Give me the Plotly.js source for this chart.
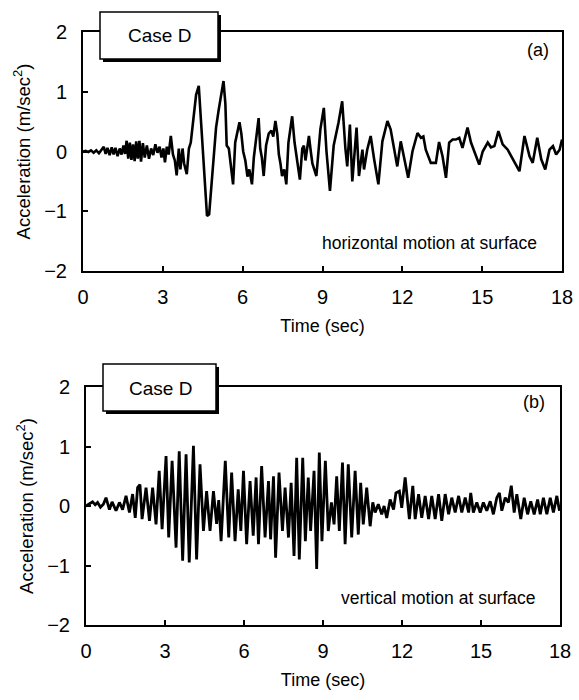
<!DOCTYPE html>
<html>
<head>
<meta charset="utf-8">
<script src="https://cdn.plot.ly/plotly-3.0.1.min.js"></script>
<style>
  html, body { margin: 0; padding: 0; background: #fff; }
  #chart { width: 579px; height: 700px; }
</style>
</head>
<body>
<div id="chart"></div>
<script>
// Case D: surface acceleration records (horizontal and vertical components)

const horizTime = [
  0.00, 0.10, 0.20, 0.30, 0.40, 0.50, 0.60, 0.70, 0.78, 0.85, 0.92, 1.00, 1.08, 1.15, 1.22, 1.30,
  1.38, 1.45, 1.52, 1.58, 1.64, 1.70, 1.76, 1.82, 1.88, 1.94, 2.00, 2.06, 2.12, 2.18, 2.25, 2.32,
  2.40, 2.48, 2.56, 2.64, 2.72, 2.80, 2.88, 2.95, 3.02, 3.08, 3.15, 3.22, 3.30, 3.38, 3.45, 3.52,
  3.60, 3.66, 3.74, 3.80, 3.90, 3.98, 4.05, 4.15, 4.25, 4.35, 4.42, 4.50, 4.60, 4.66, 4.74, 4.82,
  4.92, 5.00, 5.10, 5.20, 5.28, 5.35, 5.40, 5.48, 5.56, 5.64, 5.72, 5.80, 5.88, 5.95, 6.02, 6.10,
  6.18, 6.25, 6.35, 6.42, 6.50, 6.60, 6.66, 6.72, 6.79, 6.88, 6.98, 7.08, 7.15, 7.23, 7.30, 7.36,
  7.42, 7.48, 7.56, 7.64, 7.72, 7.86, 7.95, 8.05, 8.15, 8.24, 8.30, 8.36, 8.49, 8.56, 8.62, 8.77,
  8.92, 9.05, 9.15, 9.28, 9.42, 9.60, 9.74, 9.86, 9.93, 10.03, 10.12, 10.28, 10.37, 10.50, 10.56, 10.68,
  10.81, 10.94, 11.10, 11.25, 11.44, 11.56, 11.69, 11.81, 11.94, 12.07, 12.22, 12.38, 12.57, 12.70, 12.79, 12.88,
  13.07, 13.26, 13.38, 13.51, 13.64, 13.76, 13.89, 14.01, 14.14, 14.26, 14.45, 14.58, 14.70, 14.89, 15.02, 15.21,
  15.33, 15.46, 15.61, 15.77, 15.96, 16.15, 16.40, 16.59, 16.78, 16.90, 17.07, 17.22, 17.37, 17.53, 17.66, 17.78,
  17.91, 18.00
];
const horizAccel = [
  0.00, 0.01, -0.01, 0.02, -0.02, 0.02, -0.03, 0.03, 0.08, -0.04, 0.06, -0.06, 0.07, -0.05, 0.06, -0.08,
  0.05, -0.05, 0.10, -0.04, 0.18, -0.12, 0.15, -0.14, 0.12, -0.16, 0.17, -0.12, 0.18, -0.17, 0.14, -0.10,
  0.10, -0.12, 0.05, -0.06, 0.12, -0.02, 0.08, -0.10, 0.05, -0.18, 0.08, -0.05, 0.26, -0.05, -0.15, -0.40,
  0.05, -0.30, 0.05, -0.20, -0.38, 0.05, 0.15, 0.55, 0.95, 1.10, 0.60, -0.10, -0.80, -1.08, -1.05, -0.60,
  0.10, 0.40, 0.70, 1.00, 1.18, 0.80, 0.10, 0.05, -0.30, -0.55, 0.15, 0.30, 0.49, 0.30, 0.00, -0.15,
  -0.42, -0.30, -0.55, -0.10, 0.20, 0.56, 0.05, -0.10, -0.41, 0.10, 0.30, 0.35, 0.25, 0.51, 0.30, -0.05,
  -0.20, -0.41, -0.30, -0.55, 0.15, 0.59, 0.15, -0.20, -0.47, 0.05, 0.10, -0.15, 0.26, 0.00, -0.20, -0.41,
  0.37, 0.73, 0.00, -0.66, 0.10, 0.48, 0.84, 0.05, -0.25, 0.45, -0.50, 0.40, -0.41, 0.03, -0.30, 0.03,
  0.26, -0.13, -0.55, 0.17, 0.51, 0.37, 0.03, -0.25, 0.17, -0.13, -0.44, 0.00, 0.31, 0.23, 0.25, 0.03,
  -0.19, -0.19, 0.16, -0.08, -0.44, 0.15, 0.20, 0.20, 0.23, 0.06, 0.40, 0.15, 0.00, -0.22, 0.00, 0.15,
  0.07, 0.09, 0.34, 0.12, 0.03, -0.13, -0.33, 0.26, -0.08, -0.19, 0.23, -0.13, -0.30, 0.03, 0.09, -0.05,
  0.03, 0.20
];

const vertTime = [
  0.00, 0.12, 0.25, 0.35, 0.44, 0.55, 0.66, 0.76, 0.89, 0.99, 1.14, 1.27, 1.39, 1.52, 1.65, 1.77,
  1.87, 1.96, 2.05, 2.13, 2.28, 2.41, 2.53, 2.66, 2.78, 2.89, 3.04, 3.14, 3.27, 3.42, 3.54, 3.67,
  3.80, 3.92, 4.08, 4.20, 4.33, 4.46, 4.58, 4.71, 4.84, 4.96, 5.04, 5.13, 5.29, 5.42, 5.53, 5.66,
  5.78, 5.88, 5.98, 6.10, 6.23, 6.35, 6.46, 6.55, 6.67, 6.80, 6.93, 7.01, 7.12, 7.20, 7.33, 7.46,
  7.56, 7.69, 7.79, 7.90, 8.00, 8.10, 8.23, 8.33, 8.44, 8.53, 8.66, 8.76, 8.86, 8.96, 9.09, 9.20,
  9.32, 9.42, 9.52, 9.62, 9.74, 9.84, 9.96, 10.09, 10.22, 10.34, 10.43, 10.53, 10.66, 10.79, 10.89, 10.98,
  11.10, 11.23, 11.32, 11.42, 11.55, 11.68, 11.77, 11.90, 11.99, 12.12, 12.28, 12.41, 12.50, 12.63, 12.75, 12.88,
  13.01, 13.13, 13.26, 13.39, 13.51, 13.64, 13.77, 13.89, 14.02, 14.15, 14.27, 14.40, 14.53, 14.61, 14.71, 14.84,
  14.97, 15.09, 15.22, 15.35, 15.47, 15.60, 15.70, 15.79, 15.92, 16.04, 16.15, 16.26, 16.36, 16.51, 16.64, 16.77,
  16.89, 17.02, 17.15, 17.25, 17.37, 17.50, 17.63, 17.75, 17.88, 17.98
];
const vertAccel = [
  0.00, 0.03, 0.07, 0.02, 0.06, -0.02, 0.03, 0.14, -0.06, 0.07, -0.08, 0.06, -0.06, 0.17, -0.11, 0.20,
  -0.20, 0.31, 0.36, -0.22, 0.31, -0.25, 0.31, -0.31, 0.59, -0.39, 0.84, -0.53, 0.76, -0.70, 0.92, -0.92,
  0.87, -0.95, 1.01, -0.90, 0.70, -0.42, 0.25, -0.42, 0.25, -0.30, 0.10, -0.59, 0.76, -0.53, 0.56, -0.59,
  0.28, -0.42, 0.59, -0.64, 0.42, -0.50, 0.48, -0.64, 0.67, -0.53, 0.42, -0.56, 0.50, -0.87, 0.56, -0.42,
  0.31, -0.53, 0.39, -0.84, 0.81, -0.90, 0.81, -0.59, 0.48, -0.42, 0.59, -1.06, 0.90, -0.59, 0.76, -0.42,
  0.06, -0.31, 0.50, -0.42, 0.73, -0.64, 0.70, -0.53, 0.59, -0.48, 0.39, -0.31, 0.31, -0.34, 0.06, -0.11,
  0.03, -0.14, 0.00, -0.20, 0.11, -0.06, 0.22, 0.25, -0.03, 0.48, -0.22, 0.34, -0.22, 0.20, -0.20, 0.17,
  -0.22, 0.17, -0.22, 0.20, -0.25, 0.20, -0.14, 0.14, -0.11, 0.17, -0.11, 0.14, -0.11, 0.22, -0.11, 0.06,
  -0.11, 0.06, -0.08, 0.08, -0.14, 0.14, 0.22, -0.08, 0.14, 0.06, 0.34, -0.11, 0.20, -0.22, 0.14, -0.14,
  0.08, -0.14, 0.11, -0.14, 0.14, -0.14, 0.14, -0.11, 0.17, -0.08
];

const timeTicks = [0, 3, 6, 9, 12, 15, 18];
const accelTicks = [-2, -1, 0, 1, 2];
const panelLabels = ['(a)', '(b)'];
const caseLabel = 'Case D';
const motionLabels = ['horizontal motion at surface', 'vertical motion at surface'];

const W = 579, H = 700;
const px = v => v / W;
const py = v => 1 - v / H;

const narrow = 'Liberation Sans Narrow, Arial Narrow, Liberation Sans, sans-serif';
const sans = 'Liberation Sans, Arial, sans-serif';

const traces = [
  { x: horizTime, y: horizAccel, type: 'scatter', mode: 'lines', line: { color: '#000', width: 2.6 },
    xaxis: 'x', yaxis: 'y', showlegend: false, hoverinfo: 'skip' },
  { x: vertTime, y: vertAccel, type: 'scatter', mode: 'lines', line: { color: '#000', width: 2.8 },
    xaxis: 'x2', yaxis: 'y2', showlegend: false, hoverinfo: 'skip' }
];

function xAxis(domain, anchor) {
  return {
    domain: domain, anchor: anchor, range: [0, 18],
    tickvals: timeTicks, ticks: 'inside', ticklen: 5, tickwidth: 2, tickcolor: '#000',
    showline: true, linecolor: '#000', linewidth: 2, mirror: true,
    showgrid: false, zeroline: false,
    tickfont: { family: narrow, size: 20, color: '#000' },
    ticklabelstandoff: 7,
    title: { text: 'Time (sec)', font: { family: sans, size: 18, color: '#000' }, standoff: 12 }
  };
}
function yAxis(domain, anchor) {
  return {
    domain: domain, anchor: anchor, range: [-2, 2],
    tickvals: accelTicks, ticks: 'inside', ticklen: 5, tickwidth: 2, tickcolor: '#000',
    showline: true, linecolor: '#000', linewidth: 2, mirror: true,
    showgrid: false, zeroline: false,
    tickfont: { family: narrow, size: 20, color: '#000' },
    ticklabelstandoff: 10,
    title: { text: 'Acceleration (m/sec<sup>2</sup>)', font: { family: sans, size: 18.5, color: '#000' }, standoff: 9 }
  };
}

// Label boxes with a drop shadow, sitting on the top frame line
function caseBox(x0, y0, x1, y1) {
  return [
    { type: 'rect', xref: 'paper', yref: 'paper', layer: 'above',
      x0: px(x0 + 3), x1: px(x1 + 3), y0: py(y1 + 3), y1: py(y0 + 3),
      fillcolor: '#000', line: { width: 0 } },
    { type: 'rect', xref: 'paper', yref: 'paper', layer: 'above',
      x0: px(x0), x1: px(x1), y0: py(y1), y1: py(y0),
      fillcolor: '#fff', line: { color: '#000', width: 1.5 } }
  ];
}

function label(text, x, y, xanchor, size) {
  return { text: text, x: px(x), y: py(y), xref: 'paper', yref: 'paper',
    xanchor: xanchor, yanchor: 'middle', showarrow: false,
    font: { family: sans, size: size, color: '#000' } };
}

const annotations = [
  label(caseLabel, 159, 35, 'center', 19),
  label(caseLabel, 160, 388, 'center', 19),
  label(panelLabels[0], 538, 50, 'center', 18),
  label(panelLabels[1], 534, 402, 'center', 18),
  label(motionLabels[0], 539, 243, 'right', 17.5),
  label(motionLabels[1], 538, 598, 'right', 17.5)
];

const layout = {
  width: W, height: H,
  margin: { l: 0, r: 0, t: 0, b: 0 },
  paper_bgcolor: '#fff', plot_bgcolor: '#fff',
  showlegend: false,
  xaxis: xAxis([px(83), px(562)], 'y'),
  yaxis: yAxis([py(271), py(32)], 'x'),
  xaxis2: xAxis([px(86), px(560)], 'y2'),
  yaxis2: yAxis([py(625), py(387)], 'x2'),
  shapes: caseBox(100, 12, 218, 59).concat(caseBox(103, 364, 216, 411)),
  annotations: annotations
};

Plotly.newPlot('chart', traces, layout, { staticPlot: true, displayModeBar: false });
</script>
</body>
</html>
